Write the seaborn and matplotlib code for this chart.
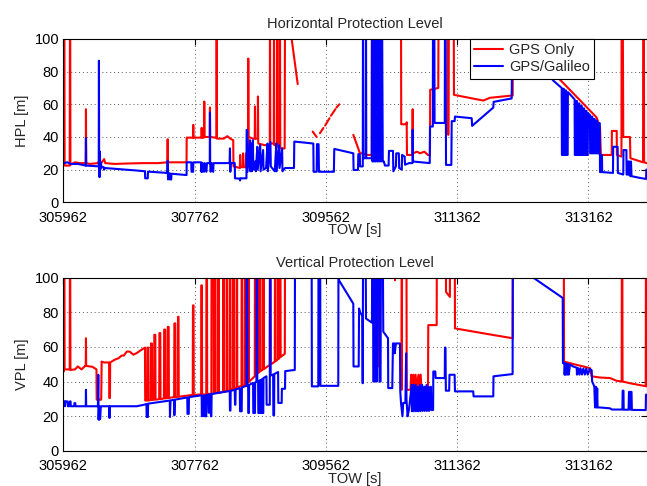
import numpy as np
import pandas as pd
import matplotlib
matplotlib.use("Agg")
import matplotlib.pyplot as plt
from matplotlib.lines import Line2D
import seaborn as sns

T0 = 305962
x_ticks = [305962, 307762, 309562, 311362, 313162]
x_tick_labels = ["305962", "307762", "309562", "311362", "313162"]
y_ticks = [0, 20, 40, 60, 80, 100]
series_names = ["GPS Only", "GPS/Galileo"]
titles = ["Horizontal Protection Level", "Vertical Protection Level"]
ylabels = ["HPL [m]", "VPL [m]"]

# (seconds since T0, protection level [m]); None = data gap
hpl_gps = [
    (0, 23), (8, 23), (10, 120), (15, 120), (18, 22.5), (88, 22.5), (92, 120), (95, 120), (98, 23),
    (160, 24.5), (230, 24), (308, 24), (311, 57), (314, 24), (360, 23.5), (480, 24), (489, 25.5), (520, 24),
    (560, 26.5), (575, 24), (700, 23.5), (900, 23.8), (1100, 24), (1300, 24), (1428, 24.5), (1431, 38.6),
    (1434, 24.5), (1690, 24.5), (1692, 39.6), (1780, 39.6), (1782, 47.4), (1785, 39.6), (1895, 39.6),
    (1897, 45.6), (1900, 39.6), (1930, 39.6), (1933, 61.7), (1936, 40), (2008, 40), (2011, 58), (2014, 40),
    (2100, 39.5), (2103, 120), (2106, 39), (2200, 39), (2250, 40.5), (2290, 39), (2330, 38), (2333, 22),
    (2420, 21), (2425, 29), (2430, 21.5), (2460, 21.5), (2465, 30), (2470, 21.5), (2500, 21.5), (2505, 30),
    (2510, 21.5), (2533, 21.5), (2536, 88), (2540, 40), (2600, 39), (2625, 39), (2628, 58.7), (2632, 39),
    (2666, 39), (2669, 64.8), (2673, 36), (2760, 35), (2831, 35), (2834, 120), (2838, 36), (2886, 36),
    (2889, 120), (2893, 35), (2931, 35), (2934, 120), (2938, 34), (2968, 34), (2971, 120), (2975, 33),
    (3035, 33), (3040, 120), (3110, 120), (3131, 100), (3214, 72.4), None,
    (3419, 43.3), (3474, 40), None,
    (3519, 42.3), (3565, 45.5), None, (3590, 47), (3650, 51.5), None, (3670, 53), (3730, 57), None,
    (3745, 58), (3784, 60), None,
    (3976, 41.3), (4068, 30), (4109, 30), (4150, 29), (4229, 29), (4232, 120), (4250, 120), (4253, 29),
    (4270, 29), (4273, 120), (4300, 120), (4303, 29), (4317, 29), (4320, 120), (4345, 120), (4348, 29),
    (4367, 29), (4370, 120), (4630, 120), (4633, 47.8), (4705, 47.8), (4708, 49), (4712, 29), (4785, 29),
    (4790, 57), (4795, 30), (4850, 31), (4890, 30), (4950, 31), (5000, 29), (5027, 29), (5030, 68.9),
    (5141, 70), (5145, 120), (5275, 120), (5278, 41.3), (5285, 120), (5353, 120), (5356, 65.8),
    (5758, 62.3), (5850, 64), (6161, 65.4), (6164, 120), (6400, 120), (6700, 80), (6855, 73),
    (7300, 52.5), (7313, 51.7), (7358, 46), (7370, 29), (7519, 29), (7521, 43.7), (7587, 43.7), (7590, 29),
    (7652, 28), (7655, 120), (7670, 120), (7677, 40), (7769, 40), (7775, 27), (7948, 24.5), (7952, 120),
    (7960, 120), (7963, 24.5), (7998, 24),
]

hpl_gal = [
    (0, 24), (60, 24.5), (100, 23.5), (200, 23.5), (308, 22.5), (311, 39.3), (314, 22.5), (486, 22),
    (489, 86.7), (492, 21), (497, 15.4), (502, 31), (507, 20), (515, 24), (526, 21.5), (555, 21.5),
    (560, 20), (570, 21), (1000, 19.5), (1120, 19), (1123, 14.7), (1158, 14.7), (1161, 18.8), (1425, 18),
    (1431, 25.5), (1436, 14), (1442, 17.8), (1460, 17.8), (1463, 14), (1480, 14), (1483, 17.5),
    (1690, 16.7), (1692, 24.5), (1755, 24.5), (1758, 18.7), (1780, 18.7), (1783, 24.5), (1890, 24.5),
    (1893, 18.7), (1900, 24), (1905, 18.7), (1912, 24), (1930, 18.7), (1940, 24), (1962, 18.7), (1970, 24),
    (2008, 24), (2011, 55), (2014, 24), (2020, 18.7), (2035, 24), (2055, 18.7), (2060, 24), (2280, 24),
    (2285, 33), (2290, 18.7), (2295, 24), (2351, 24), (2354, 14.7), (2420, 14.5), (2423, 13.4), (2430, 14.7),
    (2511, 14.7), (2514, 44.4), (2522, 44), (2525, 18.7),
    (2560, 38), (2565, 19), (2580, 36), (2585, 19), (2600, 38), (2605, 20), (2630, 25), (2640, 19),
    (2660, 34), (2665, 20), (2700, 35), (2705, 19), (2740, 32), (2745, 20), (2780, 21), (2800, 36),
    (2805, 19), (2840, 37), (2845, 22), (2880, 20), (2900, 19), (2920, 36), (2925, 19), (2960, 35),
    (2965, 21), (3000, 33), (3005, 19), (3040, 21), (3163, 21), (3167, 37.2), (3428, 36), (3432, 18.7),
    (3474, 18.7), (3478, 35.6), (3500, 35.6), (3505, 18.7), (3710, 18.7), (3715, 32.7), (3976, 30),
    (3980, 19.8), (4040, 19.8), (4045, 29.5), (4065, 29.5), (4068, 22), (4106, 22), (4109, 120), (4113, 27),
    (4146, 27), (4150, 120), (4154, 27), (4229, 27), (4232, 120), (4240, 25), (4250, 120), (4260, 25),
    (4270, 120), (4280, 25), (4295, 120), (4305, 25), (4320, 120), (4330, 25), (4345, 120), (4355, 25),
    (4370, 120), (4380, 25), (4395, 25), (4410, 22.5), (4460, 22.5), (4465, 31.5), (4520, 31.5), (4525, 19),
    (4560, 22), (4565, 30), (4600, 30), (4605, 21), (4640, 20), (4645, 29), (4680, 28), (4685, 23),
    (4740, 24), (4787, 24), (4790, 44.4), (4795, 25), (5024, 24), (5027, 46.4), (5066, 46.4), (5069, 120),
    (5087, 120), (5090, 48.6), (5230, 48.6), (5233, 120), (5242, 120), (5247, 22.9), (5320, 22.9),
    (5325, 49.7), (5365, 49.7), (5370, 52.5), (5599, 51.5), (5605, 46.8), (5895, 58), (5900, 61.5),
    (6147, 63.6), (6161, 120), (6300, 120), (6500, 88), (6718, 74.5), (6833, 70),
    (6836, 29), (6850, 29), (6853, 69.5), (6862, 69.5), (6865, 29), (6880, 29), (6883, 68.5), (6892, 68.5),
    (6895, 29), (6915, 29), (6918, 67.5), (7010, 63), (7013, 29), (7030, 29), (7033, 62), (7042, 62),
    (7045, 29), (7062, 29), (7065, 60.5), (7075, 60.5), (7078, 29), (7095, 29), (7098, 59), (7108, 59),
    (7111, 29), (7128, 29), (7131, 57.5), (7140, 57.5), (7143, 29), (7160, 29), (7163, 56), (7173, 56),
    (7176, 29), (7190, 29), (7193, 54.5), (7220, 53.5), (7223, 30), (7240, 30), (7243, 52.5), (7252, 52.5),
    (7255, 30), (7272, 30), (7275, 51), (7285, 51), (7288, 30), (7305, 30), (7308, 50), (7318, 50),
    (7321, 30), (7340, 30), (7343, 48.5), (7355, 48.5), (7358, 18.5), (7375, 18.5), (7378, 29), (7385, 29),
    (7388, 18.5), (7536, 18), (7539, 34), (7600, 34), (7603, 18), (7677, 17), (7680, 32), (7720, 32),
    (7723, 17), (7740, 17), (7743, 25), (7760, 25), (7763, 16.5), (7780, 16), (7783, 25), (7790, 16),
    (7900, 15), (7990, 14.3), (7993, 20), (7998, 20),
]

vpl_gps = [
    (0, 45.8), (8, 45.8), (10, 120), (15, 120), (18, 47), (88, 47), (92, 120), (95, 120), (98, 46.7),
    (160, 47), (200, 48.7), (250, 47), (300, 49), (308, 49), (311, 65), (314, 49), (400, 48.5), (455, 47),
    (458, 29.5), (520, 29.5), (526, 51.5), (560, 51), (628, 51), (631, 30.5), (640, 30.5), (643, 51),
    (700, 52.5), (760, 53.5), (800, 55), (830, 55), (870, 57.3), (910, 57.3), (960, 55.5), (1010, 56.5),
    (1060, 58), (1120, 59.6), (1123, 29), (1150, 29), (1153, 59.6), (1166, 59.6), (1169, 29), (1200, 29.3),
    (1203, 62), (1215, 62), (1218, 29.3), (1245, 29.5), (1248, 67), (1262, 67), (1265, 29.5), (1315, 29.8),
    (1318, 68), (1330, 68), (1333, 29.8), (1380, 30.2), (1383, 70), (1398, 70), (1401, 30.2), (1430, 30.5),
    (1433, 71.6), (1445, 71.6), (1448, 30.5), (1520, 31), (1523, 73.6), (1535, 73.6), (1538, 31),
    (1570, 31.2), (1573, 77.4), (1580, 77.4), (1583, 31.2), (1775, 32.3), (1778, 84), (1786, 84),
    (1789, 32.3), (1890, 32.5), (1893, 95.6), (1900, 95.6), (1903, 32.5), (1960, 32.5), (1963, 120),
    (1970, 120), (1973, 32.6), (2030, 33), (2033, 120), (2060, 120), (2063, 33.1), (2077, 33.2), (2080, 120),
    (2086, 120), (2089, 33.3), (2122, 33.4), (2125, 120), (2131, 120), (2134, 33.5), (2191, 34), (2194, 120),
    (2200, 120), (2203, 34), (2237, 34.5), (2240, 120), (2246, 120), (2249, 34.6), (2282, 35), (2285, 120),
    (2291, 120), (2294, 35.2), (2328, 35.8), (2331, 120), (2337, 120), (2340, 36), (2374, 36.5), (2377, 120),
    (2383, 120), (2386, 36.7), (2443, 37.5), (2446, 120), (2452, 120), (2455, 37.6), (2488, 38), (2491, 120),
    (2497, 120), (2500, 38.2), (2534, 39.5), (2537, 120), (2543, 120), (2546, 39.8), (2625, 43), (2628, 120),
    (2634, 120), (2637, 43.4), (2671, 45), (2674, 120), (2680, 120), (2683, 45.2), (2694, 45.8), (2697, 120),
    (2703, 120), (2706, 46), (2739, 47), (2742, 120), (2748, 120), (2751, 47.2), (2831, 49.6), (2834, 120),
    (2840, 120), (2843, 49.8), (2900, 51.5), (2903, 120), (2909, 120), (2912, 51.7), (2945, 53), (2948, 120),
    (2954, 120), (2957, 53.2), (2968, 54), (2971, 120), (2977, 120), (2980, 54.2), (3037, 56), (3040, 120),
    (4248, 120), (4250, 74.5), (4255, 120), (4285, 120), (4287, 72.6), (4292, 120), (4315, 120), (4318, 48.7),
    (4323, 120), (4340, 120), (4342, 69.7), (4347, 120), (4545, 120), (4548, 98.5), (4552, 120), (4638, 120),
    (4640, 35.2), (4645, 120), (4705, 120), (4708, 35.2), (4760, 35.2), (4770, 43.9), (4780, 35.2),
    (4800, 43.9), (4810, 36), (4830, 43.9), (4840, 36), (4870, 43.9), (4880, 35), (4900, 44), (4910, 35),
    (5000, 35.2), (5004, 72.6), (5119, 72.6), (5122, 120), (5245, 120), (5247, 91.8), (5300, 88.9),
    (5303, 120), (5367, 120), (5370, 70.7), (5850, 67.2), (6161, 65), (6164, 120), (6862, 120), (6865, 51.5),
    (6947, 50.6), (7039, 49.6), (7130, 48.7), (7220, 47.7), (7244, 43), (7358, 42.3), (7495, 42),
    (7587, 40.4), (7655, 40), (7658, 120), (7664, 120), (7667, 40), (7769, 39), (7985, 37.3), (7988, 120),
    (7993, 120), (7996, 37.2),
]

vpl_gal = [
    (0, 28.5), (20, 28.5), (23, 25.7), (30, 28.5), (60, 28.5), (63, 25.7), (80, 25.7), (92, 28.5),
    (100, 28.5), (103, 25.7), (150, 25.7), (153, 27.5), (165, 27.5), (168, 25.7), (308, 25.7), (311, 35.2),
    (314, 25.7), (475, 25.7), (480, 43.9), (484, 18), (490, 25.7), (495, 18), (500, 25), (505, 18.5),
    (515, 25.7), (628, 25.7), (631, 19), (636, 19), (639, 25.7), (1006, 25.7), (1100, 26.5), (1140, 27),
    (1143, 19.5), (1160, 19.5), (1163, 27.2), (1460, 29), (1463, 19.5), (1470, 29), (1520, 29.5),
    (1523, 20.5), (1530, 29.5), (1700, 30.8), (1703, 21.3), (1720, 21.3), (1723, 31), (1897, 32), (1900, 20),
    (1920, 20), (1925, 32), (1940, 32), (1943, 19.9), (1960, 19.9), (1965, 32.2), (1990, 32.5), (1993, 22),
    (2010, 22), (2013, 32.6), (2020, 32.6), (2025, 19.9), (2030, 19.9), (2034, 32.8), (2282, 34.5),
    (2285, 23.2), (2292, 23.2), (2295, 34.6), (2351, 35.2), (2354, 26.6), (2360, 26.6), (2363, 35.4),
    (2420, 36.2), (2423, 22.8), (2446, 22.8), (2449, 36.6), (2511, 37.5), (2514, 120), (2520, 120),
    (2525, 37.5), (2534, 37.6), (2537, 21.8), (2545, 21.8), (2548, 38), (2602, 39.2), (2605, 21.8),
    (2628, 21.8), (2631, 39.5), (2648, 39.8), (2651, 120), (2657, 120), (2660, 40), (2671, 40.3),
    (2674, 21.8), (2685, 21.8), (2688, 40.5), (2700, 40.8), (2703, 21.8), (2712, 21.8), (2715, 41),
    (2730, 41.5), (2733, 21.8), (2742, 21.8), (2745, 42), (2785, 43), (2788, 26.6), (2831, 26.6),
    (2834, 120), (2840, 120), (2843, 43.5), (2877, 44), (2880, 20.5), (2890, 20.5), (2893, 44.3),
    (2945, 45.5), (2948, 27.6), (2994, 27.6), (2997, 35.8), (3040, 35.8), (3043, 46), (3174, 46.7),
    (3177, 120), (3405, 120), (3408, 37.2), (3496, 37.2), (3499, 120), (3522, 120), (3525, 37.5),
    (3770, 37.5), (3773, 120), (3780, 98.5), (3976, 85), (3979, 48.7), (4050, 48.7), (4055, 82.2),
    (4068, 80), (4100, 78), (4105, 39), (4110, 120), (4145, 120), (4150, 76.4), (4232, 74), (4235, 120),
    (4247, 120), (4250, 40), (4262, 40), (4265, 120), (4287, 120), (4290, 40), (4300, 40), (4305, 120),
    (4330, 120), (4335, 40), (4350, 40), (4355, 120), (4380, 120), (4387, 68.8), (4452, 65), (4455, 36.2),
    (4510, 36.2), (4520, 62), (4540, 62), (4545, 56.3), (4560, 62), (4616, 62), (4620, 34.3), (4630, 27.6),
    (4650, 19.9), (4660, 27.6), (4690, 27.6), (4700, 56.3), (4705, 30), (4720, 19.9), (4740, 24),
    (4776, 38), (4780, 22.8), (4800, 38), (4805, 22.8), (4830, 38), (4835, 22.8), (4860, 37), (4865, 22.8),
    (4890, 38), (4895, 22.8), (4920, 38), (4925, 23), (4950, 37), (4955, 23), (4980, 38), (4985, 23),
    (5010, 37), (5015, 23), (5040, 37), (5045, 23.5), (5070, 23.5), (5073, 45.8), (5100, 45.8), (5105, 42),
    (5230, 42), (5233, 59.6), (5240, 59.6), (5245, 34.7), (5290, 34.7), (5295, 43.9), (5365, 43.9),
    (5370, 34.3), (5620, 34.3), (5625, 31.4), (5895, 31.4), (5898, 43), (6160, 44.3), (6163, 120),
    (6300, 120), (6444, 100), (6847, 88.3), (6850, 50.6), (6870, 50.6), (6873, 43.9), (6880, 50.5),
    (6890, 44), (6900, 50.3), (6910, 44), (6920, 50), (6930, 44), (6947, 49.8), (7000, 48.5), (7039, 48),
    (7042, 44), (7060, 47.7), (7075, 44), (7090, 47.7), (7110, 44), (7130, 47.5), (7150, 44), (7170, 47.5),
    (7190, 44), (7220, 47.3), (7244, 46.5), (7250, 40), (7280, 37.2), (7290, 25), (7300, 37), (7310, 25),
    (7320, 36), (7325, 25), (7358, 25), (7495, 24.5), (7520, 23.8), (7665, 23.8), (7669, 34.7),
    (7680, 34.7), (7683, 23.7), (7750, 23.7), (7755, 34), (7770, 34), (7773, 23.7), (7780, 34), (7790, 34),
    (7795, 23.6), (7985, 23.5), (7988, 32.4), (7998, 32.4),
]

x_end = 7998


def to_frame(pairs, name):
    rows = []
    seg = 0
    for p in pairs:
        if p is None:
            seg += 1
            continue
        rows.append({"t": T0 + p[0], "v": p[1], "series": name, "seg": f"{name}-{seg}"})
    return pd.DataFrame(rows)


sns.set_theme(style="white")
plt.rcParams["font.family"] = ["Liberation Sans", "DejaVu Sans"]
plt.rcParams["axes.linewidth"] = 0.8

palette = {"GPS Only": "#ff0000", "GPS/Galileo": "#0000ff"}

fig = plt.figure(figsize=(6.47, 4.86), dpi=100)
ax1 = fig.add_axes([0.0978, 0.5837, 0.9017, 0.3361])
ax2 = fig.add_axes([0.0978, 0.0726, 0.9017, 0.3560])

panels = [(ax1, hpl_gps, hpl_gal), (ax2, vpl_gps, vpl_gal)]
fs = 10.5
for i, (ax, gps, gal) in enumerate(panels):
    df = pd.concat([to_frame(gps, series_names[0]), to_frame(gal, series_names[1])], ignore_index=True)
    sns.lineplot(data=df, x="t", y="v", hue="series", units="seg", estimator=None, sort=False,
                 hue_order=series_names, palette=palette, linewidth=1.5, legend=False, ax=ax)
    ax.set_xlim(T0, T0 + x_end)
    ax.set_ylim(0, 100)
    ax.set_xticks(x_ticks)
    ax.set_xticklabels(x_tick_labels)
    ax.set_yticks(y_ticks)
    ax.grid(True, color="0.35", linestyle=(0, (1, 3)), linewidth=0.7)
    ax.tick_params(direction="in", length=4, width=0.8, top=True, right=True, labelsize=fs,
                   colors="black")
    ax.tick_params(axis="x", pad=6)
    ax.tick_params(axis="y", pad=3)
    for s in ax.spines.values():
        s.set_color("black")
        s.set_linewidth(0.8)
    ax.set_title(titles[i], fontsize=fs, pad=8)
    ax.set_xlabel("TOW [s]", fontsize=fs, labelpad=-1)
    ax.set_ylabel(ylabels[i], fontsize=fs, labelpad=4)

handles = [Line2D([0], [0], color=palette[n], lw=1.5) for n in series_names]
leg = ax1.legend(handles, series_names, loc="upper right", bbox_to_anchor=(0.91, 1.0), fontsize=fs,
                 frameon=True, fancybox=False, framealpha=1, edgecolor="black", borderaxespad=0,
                 handlelength=2.0, handletextpad=0.4, borderpad=0.3, labelspacing=0.2)
leg.get_frame().set_linewidth(0.8)

fig.savefig("out.png", dpi=100)
